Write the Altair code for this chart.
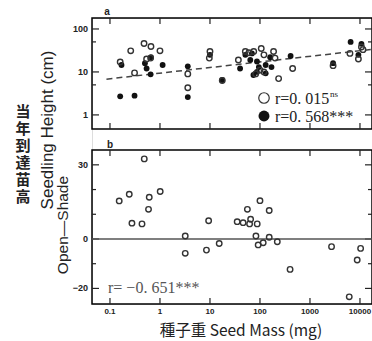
import altair as alt
import pandas as pd

# ---------------- data ----------------
# Panel a: seedling height vs seed mass
open_mass = [0.16, 0.26, 0.31, 0.48, 0.66, 1.0, 0.54, 0.65, 3.6, 3.6, 10, 9.7, 17.6,
             37, 51, 60, 75, 106, 120, 187, 200, 100, 82, 120, 236, 450, 2900, 6300,
             9300, 10700, 11500]
open_height = [17, 31, 9.5, 46, 39, 31, 20, 21, 9, 4.3, 30, 21, 6.3,
               19, 30, 28, 30, 35, 25, 30, 21, 11, 9, 10, 7, 12, 14, 27,
               20, 38, 33]
fill_mass = [0.16, 0.31, 0.17, 0.5, 0.54, 0.65, 0.66, 1.13, 3.6, 3.6, 10, 17.6,
             40, 51, 64, 69, 87, 95, 130, 87, 130, 170, 74, 160, 410, 2900,
             6500, 9300, 10700]
fill_height = [2.7, 2.8, 14.5, 16, 12, 8.8, 22, 14.5, 13.5, 2.6, 25, 6.5,
               12, 25, 19, 27, 17.5, 13, 14.5, 10, 9.3, 13, 8.5, 22, 23.5, 16,
               50, 25, 45]
reg_mass = [0.085, 17400]
reg_height = [6.8, 33.5]

# Panel b: open - shade difference vs seed mass
diff_mass = [0.485, 0.153, 0.243, 0.61, 1.01, 0.59, 0.275, 0.437, 3.2, 3.2, 9.4, 8.5,
             15.3, 100, 56, 153, 35, 46, 65, 62, 88, 83, 92, 116, 153, 222, 400,
             2700, 10300, 8800, 6100]
diff_value = [32.4, 15.4, 18.1, 16.9, 19.2, 12, 6.4, 6.1, 1.2, -5.8, 7.4, -4.5,
              -1.8, 15.5, 12, 11.5, 7, 6.6, 8, 6.1, 6.1, 1.2, -2.4, -1.5, 0.7, -1.1, -12.3,
              -3.1, -3.8, -8.5, -23.4]

x_ticks = [0.1, 1, 10, 100, 1000, 10000]
ya_major = [1, 10, 100]
ya_minor = [5, 50]
yb_major = [-20, 0, 30]
yb_minor = [-10, 10, 20]
zero_line = [0]

label_a = "a"
label_b = "b"
legend_open = "r=0. 015"
legend_open_sup = "ns"
legend_fill = "r=0. 568***"
r_b = "r= −0. 651***"
ytitle_a = "Seedling Height (cm)"
ytitle_b = "Open—Shade"
ytitle_jp = "当\n年\n到\n達\n苗\n高"
xtitle = "種子重 Seed Mass (mg)"

# ---------------- layout ----------------
W = 280          # plot width (both panels)
HA = 111         # panel a height
GAP = 21
B0 = HA + GAP    # top of panel b
H = 286          # bottom of panel b
INK = "#222222"

xs = alt.Scale(type="log", domain=[0.0437, 17400], nice=False)
ysa = alt.Scale(type="log", domain=[0.47, 180], nice=False, range=[HA, 0])
ysb = alt.Scale(type="linear", domain=[-26.3, 36], nice=False, zero=False, range=[H, B0])

df_open = pd.DataFrame({"mass": open_mass, "h": open_height})
df_fill = pd.DataFrame({"mass": fill_mass, "h": fill_height})
df_reg = pd.DataFrame({"mass": reg_mass, "h": reg_height})
df_diff = pd.DataFrame({"mass": diff_mass, "d": diff_value})
df_xt = pd.DataFrame({"v": x_ticks})
df_yam = pd.DataFrame({"v": ya_major})
df_yan = pd.DataFrame({"v": ya_minor})
df_ybm = pd.DataFrame({"v": yb_major})
df_ybn = pd.DataFrame({"v": yb_minor})
df_zero = pd.DataFrame({"v": zero_line})


def one(text):
    return pd.DataFrame({"t": [text]})


def txt(text, x, y, **kw):
    base = dict(align="center", baseline="middle", color=INK)
    base.update(kw)
    return alt.Chart(one(text)).mark_text(**base).encode(
        x=alt.value(x), y=alt.value(y), text="t:N")


def X(field):
    return alt.X(field, scale=xs, axis=None)


def Y(field, sc):
    return alt.Y(field, scale=sc, axis=None)


layers = []

# frames
for y0, y1 in ((0, HA), (B0, H)):
    layers.append(alt.Chart(one("frame")).mark_rect(filled=False, stroke="black", strokeWidth=1.5).encode(
        x=alt.value(0), x2=alt.value(W), y=alt.value(y0), y2=alt.value(y1)))

# inward ticks
tk = dict(color=INK, strokeWidth=1.2)
for df, ln, sc in ((df_yam, 7, ysa), (df_yan, 4, ysa), (df_ybm, 7, ysb), (df_ybn, 4, ysb)):
    layers.append(alt.Chart(df).mark_rule(**tk).encode(
        y=Y("v:Q", sc), x=alt.value(0), x2=alt.value(ln)))
    layers.append(alt.Chart(df).mark_rule(**tk).encode(
        y=Y("v:Q", sc), x=alt.value(W), x2=alt.value(W - ln)))
for y0, d in ((0, 6), (HA, -6), (B0, 6), (H, -6)):
    layers.append(alt.Chart(df_xt).mark_rule(**tk).encode(
        x=X("v:Q"), y=alt.value(y0), y2=alt.value(y0 + d)))

# tick labels
lab = dict(font="Liberation Sans", fontSize=9, fontWeight="bold", color=INK)
layers.append(alt.Chart(df_yam).mark_text(align="right", baseline="middle", **lab).encode(
    y=Y("v:Q", ysa), x=alt.value(-4), text=alt.Text("v:Q", format="~g")))
layers.append(alt.Chart(df_ybm).mark_text(align="right", baseline="middle", **lab).encode(
    y=Y("v:Q", ysb), x=alt.value(-4), text=alt.Text("v:Q", format="d")))
layers.append(alt.Chart(df_xt).mark_text(align="center", baseline="middle",
                                         **dict(lab, fontSize=8)).encode(
    x=X("v:Q"), y=alt.value(H + 8), text=alt.Text("v:Q", format="~g")))

# panel a data
layers.append(alt.Chart(df_reg).mark_line(color="#444444", strokeWidth=1.5, strokeDash=[6, 4]).encode(
    x=X("mass:Q"), y=Y("h:Q", ysa)))
layers.append(alt.Chart(df_fill).mark_point(shape="circle", filled=True, size=34, color="#111111",
                                            opacity=1).encode(x=X("mass:Q"), y=Y("h:Q", ysa)))
layers.append(alt.Chart(df_open).mark_point(shape="circle", filled=False, size=30, color="#333333",
                                            strokeWidth=1.4, opacity=1).encode(x=X("mass:Q"), y=Y("h:Q", ysa)))

# panel a legend
layers.append(alt.Chart(one(legend_open)).mark_point(shape="circle", filled=False, size=110,
                                                    color="#333333", strokeWidth=1.2, opacity=1).encode(
    x=alt.value(172), y=alt.value(80)))
layers.append(alt.Chart(one(legend_fill)).mark_point(shape="circle", filled=True, size=120,
                                                    color="#111111", opacity=1).encode(
    x=alt.value(172), y=alt.value(98)))
serif = dict(align="left", font="Liberation Serif")
layers.append(txt(legend_open, 183, 81, fontSize=16, **serif))
layers.append(txt(legend_open_sup, 238, 76, fontSize=9, **serif))
layers.append(txt(legend_fill, 183, 99, fontSize=16, **serif))
layers.append(txt(label_a, 15, -6, font="Liberation Sans", fontSize=10, fontWeight="bold"))

# panel b data
layers.append(alt.Chart(df_zero).mark_rule(color="#555555", strokeWidth=1.5).encode(
    y=Y("v:Q", ysb), x=alt.value(0), x2=alt.value(W)))
layers.append(alt.Chart(df_diff).mark_point(shape="circle", filled=False, size=30, color="#333333",
                                            strokeWidth=1.4, opacity=1).encode(x=X("mass:Q"), y=Y("d:Q", ysb)))
layers.append(txt(r_b, 16, B0 + 138, align="left", font="Liberation Serif", fontSize=16, color="#555555"))
layers.append(txt(label_b, 18, B0 - 5, font="Liberation Sans", fontSize=10, fontWeight="bold"))

# titles
layers.append(txt(ytitle_jp, -69, 94, font="Noto Sans CJK JP", fontSize=15, fontWeight="bold",
                  lineBreak="\n", lineHeight=17))
layers.append(txt(ytitle_a, -44, 112, font="Liberation Sans", fontSize=17, angle=270))
layers.append(txt(ytitle_b, -29, B0 + 75, font="Liberation Sans", fontSize=15.5, angle=270))
layers.append(txt(xtitle, 149, H + 27, font="Noto Sans CJK JP", fontSize=15.5))

chart = alt.layer(*layers).resolve_scale(y="independent").properties(
    width=W, height=H,
    autosize=alt.AutoSizeParams(type="none"),
    padding={"left": 92, "top": 18, "right": 0, "bottom": 37},
).configure_view(stroke=None).configure(background="white")

chart.save("out.html", embed_options={"renderer": "svg", "actions": False})
